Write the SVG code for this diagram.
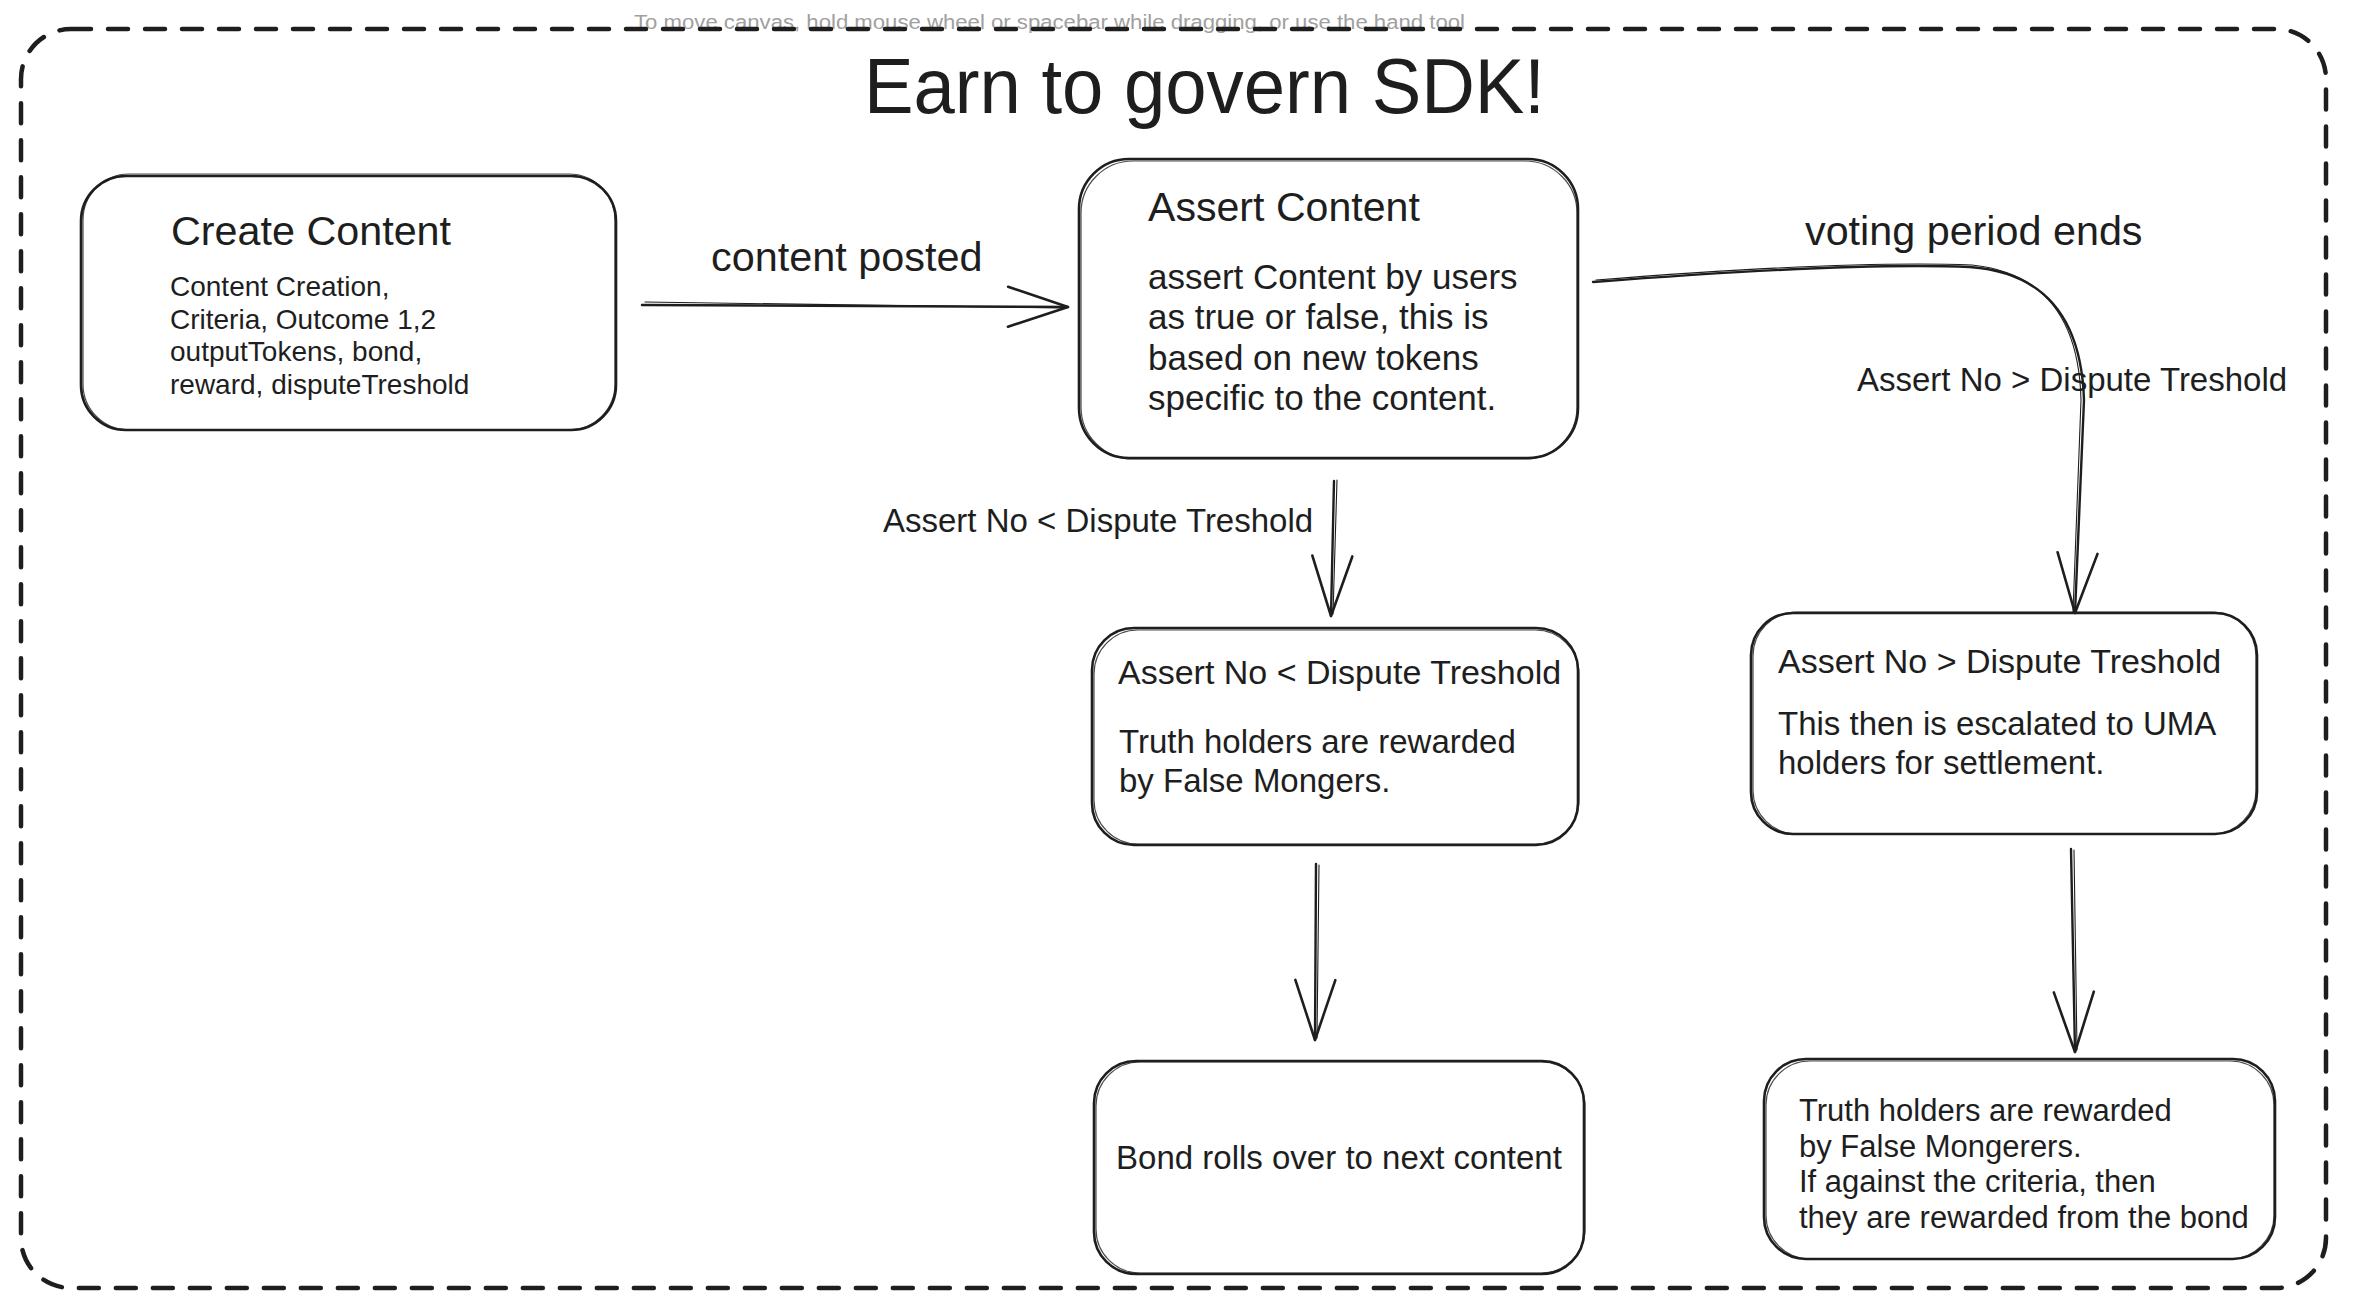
<svg xmlns="http://www.w3.org/2000/svg" width="2356" height="1308" viewBox="0 0 2356 1308">
<defs>
<style>
.t{font-family:"Liberation Sans",Arial,sans-serif;fill:#1e1e1e}
.box{fill:none;stroke:#1e1e1e;stroke-width:2.6}
.box2{fill:none;stroke:#1e1e1e;stroke-width:1.2;opacity:0.8}
.ln{fill:none;stroke:#1e1e1e;stroke-width:2.4;stroke-linecap:round}
.ln2{fill:none;stroke:#1e1e1e;stroke-width:1.1;stroke-linecap:round}
.hd{fill:none;stroke:#1e1e1e;stroke-width:2.6;stroke-linecap:round;stroke-linejoin:round}
</style>
<marker id="arr" markerUnits="userSpaceOnUse" markerWidth="80" markerHeight="60" viewBox="-70 -30 80 60" refX="0" refY="0" orient="auto">
<path class="hd" d="M-60,-20 L0,0 L-60,20"/>
</marker>
</defs>
<rect width="2356" height="1308" fill="#ffffff"/>
<text class="t" x="634" y="29" font-size="20" style="fill:#a0a0a0" textLength="831" lengthAdjust="spacingAndGlyphs">To move canvas, hold mouse wheel or spacebar while dragging, or use the hand tool</text>
<g id="frame">
<rect x="21" y="29" width="2305" height="1259" rx="50" fill="none" stroke="#1e1e1e" stroke-width="4.5" stroke-dasharray="20 17" stroke-linecap="round"/>
</g>
<text id="title" class="t" x="864" y="113" font-size="78" textLength="681" lengthAdjust="spacingAndGlyphs">Earn to govern SDK!</text>

<g id="connectors">
<path class="ln" d="M642,305 L1068,307" marker-end="url(#arr)"/>
<path class="ln2" d="M645,302 L1066,308"/>
<path class="ln" d="M1593,282 Q1850,262 1970,267 Q2080,275 2084,400 L2075,613" marker-end="url(#arr)"/>
<path class="ln2" d="M1596,280 Q1850,260 1972,265 Q2078,276 2081,400 L2073,612"/>
<path class="ln" d="M1334,481 L1331,616" marker-end="url(#arr)"/>
<path class="ln2" d="M1337,480 L1333,614"/>
<path class="ln" d="M1316,864 L1315,1040" marker-end="url(#arr)"/>
<path class="ln2" d="M1319,865 L1317,1038"/>
<path class="ln" d="M2071,849 L2075,1052" marker-end="url(#arr)"/>
<path class="ln2" d="M2074,850 L2077,1050"/>
<text class="t" x="711" y="271" font-size="41.4">content posted</text>
<text class="t" x="1805" y="245" font-size="41.3">voting period ends</text>
<text class="t" x="1857" y="391" font-size="33">Assert No &gt; Dispute Treshold</text>
<text class="t" x="883" y="532" font-size="33">Assert No &lt; Dispute Treshold</text>
</g>

<g id="create-content">
<rect class="box" x="81" y="176" width="535" height="254" rx="45"/>
<rect class="box2" x="83" y="174" width="532" height="256" rx="46"/>
<text class="t" x="171" y="245" font-size="41.3">Create Content</text>
<text class="t" x="170" y="296" font-size="28">Content Creation,</text>
<text class="t" x="170" y="329" font-size="28">Criteria, Outcome 1,2</text>
<text class="t" x="170" y="361" font-size="28">outputTokens, bond,</text>
<text class="t" x="170" y="394" font-size="28">reward, disputeTreshold</text>
</g>

<g id="assert-content">
<rect class="box" x="1079" y="159" width="499" height="299" rx="50"/>
<rect class="box2" x="1081" y="161" width="496" height="298" rx="52"/>
<text class="t" x="1148" y="221" font-size="41.1">Assert Content</text>
<text class="t" x="1148" y="289" font-size="35">assert Content by users</text>
<text class="t" x="1148" y="329" font-size="35">as true or false, this is</text>
<text class="t" x="1148" y="370" font-size="35">based on new tokens</text>
<text class="t" x="1148" y="410" font-size="35">specific to the content.</text>
</g>

<g id="below-threshold">
<rect class="box" x="1092" y="628" width="486" height="217" rx="42"/>
<rect class="box2" x="1094" y="630" width="485" height="214" rx="44"/>
<text class="t" x="1118" y="684" font-size="34">Assert No &lt; Dispute Treshold</text>
<text class="t" x="1119" y="753" font-size="33">Truth holders are rewarded</text>
<text class="t" x="1119" y="792" font-size="33">by False Mongers.</text>
</g>

<g id="bond-rolls">
<rect class="box" x="1094" y="1061" width="490" height="213" rx="42"/>
<rect class="box2" x="1096" y="1062" width="489" height="211" rx="44"/>
<text class="t" x="1339" y="1169" font-size="33" text-anchor="middle">Bond rolls over to next content</text>
</g>

<g id="above-threshold">
<rect class="box" x="1751" y="613" width="506" height="221" rx="42"/>
<rect class="box2" x="1753" y="612" width="503" height="222" rx="44"/>
<text class="t" x="1778" y="673" font-size="34">Assert No &gt; Dispute Treshold</text>
<text class="t" x="1778" y="735" font-size="33">This then is escalated to UMA</text>
<text class="t" x="1778" y="774" font-size="33">holders for settlement.</text>
</g>

<g id="uma-settlement">
<rect class="box" x="1764" y="1059" width="511" height="200" rx="42"/>
<rect class="box2" x="1766" y="1061" width="508" height="198" rx="44"/>
<text class="t" x="1799" y="1121" font-size="31">Truth holders are rewarded</text>
<text class="t" x="1799" y="1157" font-size="31">by False Mongerers.</text>
<text class="t" x="1799" y="1192" font-size="31">If against the criteria, then</text>
<text class="t" x="1799" y="1228" font-size="31">they are rewarded from the bond</text>
</g>
</svg>
